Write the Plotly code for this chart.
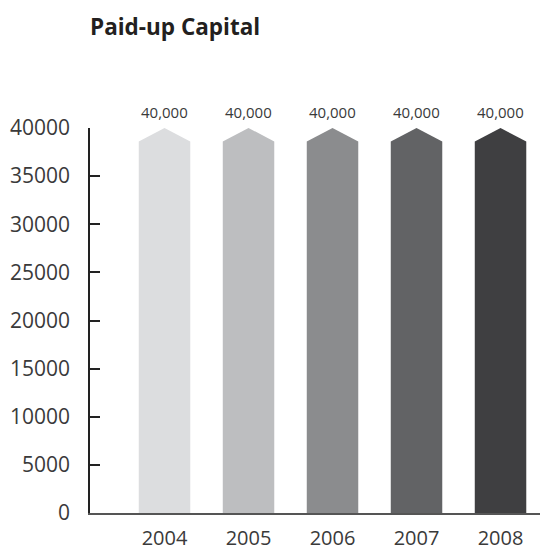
import plotly.graph_objects as go

years = ["2004", "2005", "2006", "2007", "2008"]
values = [40000, 40000, 40000, 40000, 40000]
labels = ["40,000", "40,000", "40,000", "40,000", "40,000"]
colors = ["#dcdddf", "#bdbec0", "#8b8c8e", "#626365", "#3f3f41"]
y_ticks = [0, 5000, 10000, 15000, 20000, 25000, 30000, 35000, 40000]

bar_w = 0.613
notch = 1400

fig = go.Figure()
for i, (v, c) in enumerate(zip(values, colors)):
    xs = [i - bar_w / 2, i - bar_w / 2, i, i + bar_w / 2, i + bar_w / 2, i - bar_w / 2]
    ys = [0, v - notch, v, v - notch, 0, 0]
    fig.add_trace(go.Scatter(x=xs, y=ys, fill="toself", fillcolor=c, mode="none",
                             hoverinfo="skip", showlegend=False))

for i, (v, t) in enumerate(zip(values, labels)):
    fig.add_annotation(x=i, y=v, text=t, showarrow=False, xanchor="center", yanchor="bottom",
                       yshift=4, font=dict(family="Open Sans", size=15, color="#3a3a3a"))

fig.update_layout(
    width=540, height=551,
    margin=dict(l=90, r=0, t=128, b=38),
    paper_bgcolor="white", plot_bgcolor="white",
    title=dict(text="<b>Paid-up Capital</b>", x=90 / 540, xref="container", xanchor="left",
               y=1 - 27 / 551, yref="container", yanchor="middle",
               font=dict(family="Open Sans", size=22.5, color="#231f20")),
    font=dict(family="Open Sans", color="#3a3a3a"),
)
fig.update_xaxes(
    range=[-0.887, 4.47], tickvals=list(range(len(years))), ticktext=years,
    showgrid=False, zeroline=False, showline=True, linecolor="#555555", linewidth=2,
    ticks="", tickfont=dict(size=20, color="#3a3a3a"), ticklabelstandoff=6,
    automargin=False,
)
fig.update_yaxes(
    range=[0, 40000], tickvals=y_ticks, ticktext=[str(v) for v in y_ticks],
    showgrid=False, zeroline=False, showline=True, linecolor="#222222", linewidth=1.5,
    ticks="inside", ticklen=10, tickcolor="#222222", tickwidth=1.5,
    tickfont=dict(size=21, color="#3a3a3a"), ticklabelstandoff=14,
    automargin=False,
)

fig.write_html("out.html")
